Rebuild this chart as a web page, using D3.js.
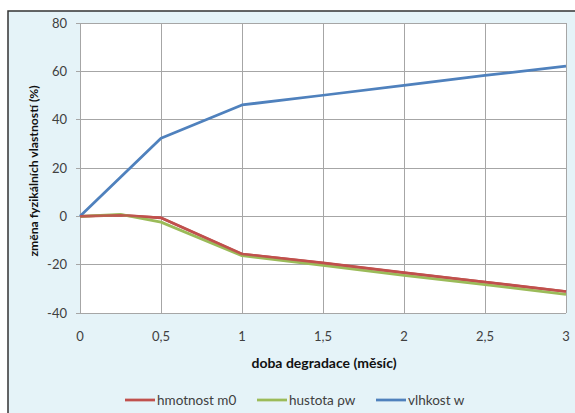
<!DOCTYPE html>
<html><head><meta charset="utf-8">
<script src="https://cdn.jsdelivr.net/npm/d3@7"></script>
<style>body{margin:0;background:#fff}svg{display:block}</style>
</head><body>
<script>
const months = [0, 0.25, 0.5, 1, 1.5, 2, 2.5, 3];
const hmotnost = [0, 0.5, -0.6, -15.6, -19.3, -23.3, -27.2, -31.1];
const hustota = [0, 0.8, -2.4, -16.3, -20.3, -24.4, -28.3, -32.3];
const vlhkost = [0, 16.2, 32.3, 46.1, 50.1, 54.2, 58.3, 62.2];
const seriesNames = ["hmotnost m0", "hustota ρw", "vlhkost w"];
const seriesColors = ["#c0504d", "#9bbb59", "#4f81bd"];
const xTicks = [0, 0.5, 1, 1.5, 2, 2.5, 3];
const yTicks = [-40, -20, 0, 20, 40, 60, 80];

const W = 575, H = 413;
const svg = d3.select("body").append("svg").attr("width", W).attr("height", H)
  .style("font-family", "Lato, 'Open Sans', sans-serif");

// outer chart frame
svg.append("rect").attr("x", 8).attr("y", 11).attr("width", W).attr("height", H)
  .attr("fill", "#e5f3f8").attr("stroke", "#333").attr("stroke-width", 1.5);

const x = d3.scaleLinear().domain([0, 3]).range([80, 566]);
const y = d3.scaleLinear().domain([-40, 80]).range([313, 23]);

svg.append("rect").attr("x", x(0)).attr("y", y(80)).attr("width", x(3) - x(0)).attr("height", y(-40) - y(80))
  .attr("fill", "#fff");

const grid = svg.append("g").attr("stroke", "#a6a6a6").attr("stroke-width", 1).attr("shape-rendering", "crispEdges");
yTicks.forEach(t => grid.append("line").attr("x1", x(0) - 4).attr("x2", x(3)).attr("y1", y(t)).attr("y2", y(t)));
xTicks.forEach(t => grid.append("line").attr("x1", x(t)).attr("x2", x(t)).attr("y1", y(80)).attr("y2", y(-40)));

const fmt = d => String(d).replace(".", ",");
svg.append("g").selectAll("text").data(yTicks).join("text")
  .attr("x", 67).attr("y", d => y(d)).attr("dy", "0.35em").attr("text-anchor", "end")
  .attr("font-size", 13).attr("fill", "#404040").text(d => d);
svg.append("g").selectAll("text").data(xTicks).join("text")
  .attr("x", d => x(d)).attr("y", 336).attr("dy", "0.35em").attr("text-anchor", "middle")
  .attr("font-size", 13).attr("fill", "#404040").text(fmt);

svg.append("text").attr("x", 324).attr("y", 363).attr("dy", "0.35em").attr("text-anchor", "middle")
  .attr("font-size", 14).attr("font-weight", "bold").attr("fill", "#111").text("doba degradace (měsíc)");
svg.append("text").attr("transform", `translate(34,171) rotate(-90)`).attr("dy", "0.35em")
  .attr("text-anchor", "middle").attr("font-size", 12.2).attr("font-weight", "bold").attr("fill", "#111")
  .text("změna fyzikálních vlastností (%)");

const line = d3.line().x((d, i) => x(months[i])).y(d => y(d));
[hmotnost, hustota, vlhkost].forEach((s, k) => {
  svg.append("path").datum(s).attr("d", line).attr("fill", "none")
    .attr("stroke", seriesColors[k]).attr("stroke-width", 2.75).attr("stroke-linejoin", "round");
});
svg.append("path").datum(hmotnost).attr("d", line).attr("fill", "none")
  .attr("stroke", seriesColors[0]).attr("stroke-width", 2.5).attr("stroke-linejoin", "round").attr("opacity", 0.9);

const legX = [125, 257, 376];
const leg = svg.append("g");
seriesNames.forEach((n, k) => {
  leg.append("line").attr("x1", legX[k]).attr("x2", legX[k] + 30).attr("y1", 400).attr("y2", 400)
    .attr("stroke", seriesColors[k]).attr("stroke-width", 2.75);
  leg.append("text").attr("x", legX[k] + 32).attr("y", 400).attr("dy", "0.35em")
    .attr("font-size", 13.5).attr("fill", "#404040").text(n);
});
</script>
</body></html>
